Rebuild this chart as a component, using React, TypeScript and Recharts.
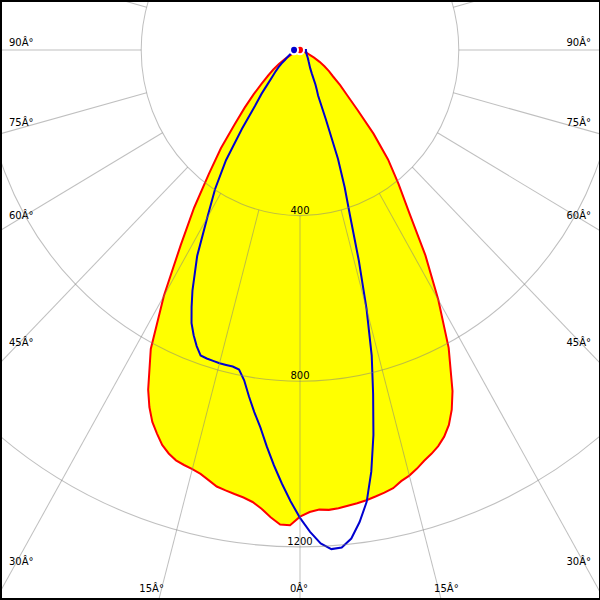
import { RadarChart, Radar, PolarAngleAxis, PolarRadiusAxis } from 'recharts';

// gamma angles (deg), 0 = straight down, C0 on the right, C180 on the left
// (finer steps around the main beam)
const gammaAngles = [
  -90, -87.5, -85, -82.5, -80, -77.5, -75, -72.5, -70, -67.5, -65, -62.5, -60,
  -57.5, -55, -52.5, -50, -47.5, -45, -42.5, -40, -37.5, -35, -32.5, -30, -27.5,
  -25, -23.75, -22.5, -21.25, -20, -18.75, -17.5, -16.25, -15, -13.75,
  -12.5, -11.25, -10, -8.75, -7.5, -6.25, -5, -3.75, -2.5, -1.25,
  0,
  1.25, 2.5, 3.75, 5, 6.25, 7.5, 8.75, 10, 11.25, 12.5,
  13.75, 15, 16.25, 17.5, 18.75, 20, 21.25, 22.5, 23.75, 25,
  27.5, 30, 32.5, 35, 37.5, 40, 42.5, 45, 47.5, 50, 52.5, 55, 57.5,
  60, 62.5, 65, 67.5, 70, 72.5, 75, 77.5, 80, 82.5, 85, 87.5, 90,
];

// C0 - C180 plane (cd)
const planeC0C180 = [
  0, 0, 0, 0, 0, 0, 1, 2, 4, 9, 17, 28, 44,
  63, 82, 101, 126, 158, 197, 244, 310, 377, 465, 560, 686, 814,
  905, 942, 972, 994, 1015, 1029, 1039, 1044, 1048, 1054,
  1064, 1075, 1080, 1085, 1090, 1098, 1112, 1131, 1147, 1148,
  1127,
  1116, 1111, 1113, 1111, 1107, 1104, 1100, 1095, 1090, 1084,
  1072, 1064, 1053, 1040, 1030, 1018, 1002, 980, 949, 909,
  811, 697, 588, 479, 408, 345, 274, 205, 160, 132, 105, 89, 73,
  57, 40, 26, 16, 9, 4, 2, 0, 0, 0, 0, 0, 0,
];

// C90 - C270 plane (cd)
const planeC90C270 = [
  15, 15, 16, 16, 17, 18, 19, 21, 23, 26, 30, 34, 39,
  45, 57, 68, 80, 93, 113, 143, 176, 240, 325, 398, 467, 561,
  641, 678, 714, 739, 761, 779, 781, 782, 783, 783,
  783, 787, 810, 846, 882, 917, 961, 1005, 1048, 1090,
  1130,
  1164, 1193, 1208, 1206, 1187, 1150, 1104, 1034, 948, 851,
  760, 648, 529, 418, 350, 280, 180, 119, 105, 92,
  65, 52, 45, 40, 36, 33, 30, 28, 26, 24, 22, 21, 20,
  19, 18, 18, 17, 17, 16, 16, 16, 15, 15, 15, 15, 15,
];

const gridAngles = [
  -180, -165, -150, -135, -120, -105, -90, -75, -60, -45, -30, -15,
  0, 15, 30, 45, 60, 75, 90, 105, 120, 135, 150, 165,
];
const gridValues = [400, 800, 1200];
const maxValue = 1600;

const W = 600;
const H = 600;
const CX = 300;
const CY = 50;
const PX_PER_CD = 0.397;
const STRETCH = 1.043; // the original plot is a little taller than wide
const FONT = '"DejaVu Sans", Verdana, sans-serif';
const GRID = { stroke: '#808080', strokeOpacity: 0.5, strokeWidth: 1 };

const data = gammaAngles.map((g, i) => ({
  gamma: g,
  c0: planeC0C180[i],
  c90: planeC90C270[i],
}));

// screen y -> y inside the stretched svg
const toSvgY = (y: number) => CY + (y - CY) / STRETCH;

function AngleTick(props: any) {
  const { payload } = props;
  const a = (-payload.coordinate * Math.PI) / 180;
  const ux = Math.cos(a);
  const uy = Math.sin(a);
  const r0 = gridValues[0] * PX_PER_CD;
  const line = (
    <line
      x1={CX + r0 * ux}
      y1={CY + r0 * uy}
      x2={CX + 1200 * ux}
      y2={CY + 1200 * uy}
      {...GRID}
    />
  );

  const g = payload.value;
  if (Math.abs(g) > 90) return <g>{line}</g>;

  const rad = (Math.abs(g) * Math.PI) / 180;
  const s = Math.sin(rad);
  const c = Math.cos(rad);
  const tSide = s > 0 ? (W - CX) / s : Infinity;
  const tBottom = c > 0 ? (H - CY) / c : Infinity;
  let tx: number;
  let ty: number;
  let anchor: 'start' | 'middle' | 'end';
  if (tBottom <= tSide) {
    tx = CX + Math.sign(g) * (H - CY) * Math.tan(rad) - 1;
    ty = 592;
    anchor = 'middle';
  } else {
    ty = CY + (W - CX) * (c / s) - 4.5;
    tx = g < 0 ? 9 : 591;
    anchor = g < 0 ? 'start' : 'end';
  }

  return (
    <g>
      {line}
      <text
        transform={`translate(${tx},${toSvgY(ty)}) scale(1,${1 / STRETCH})`}
        textAnchor={anchor}
        fontFamily={FONT}
        fontSize={10}
        fill="#000"
      >
        {`${Math.abs(g)}Â°`}
      </text>
    </g>
  );
}

function RadiusTick(props: any) {
  const { x, y, payload } = props;
  const r = Math.hypot(x - CX, y - CY);
  return (
    <g>
      <circle cx={CX} cy={CY} r={r} fill="none" {...GRID} />
      <text
        transform={`translate(${x},${y - 2 / STRETCH}) scale(1,${1 / STRETCH})`}
        textAnchor="middle"
        fontFamily={FONT}
        fontSize={10}
        fill="#000"
      >
        {payload.value}
      </text>
    </g>
  );
}

export default function App() {
  return (
    <div
      style={{
        position: 'absolute',
        left: 0,
        top: 0,
        width: W,
        height: H,
        overflow: 'hidden',
        background: '#fff',
      }}
    >
      <div style={{ transform: `scaleY(${STRETCH})`, transformOrigin: `${CX}px ${CY}px` }}>
        <RadarChart
          width={W}
          height={H}
          cx={CX}
          cy={CY}
          outerRadius={maxValue * PX_PER_CD}
          startAngle={90}
          endAngle={450}
          data={data}
          margin={{ top: 0, right: 0, bottom: 0, left: 0 }}
        >
          <PolarAngleAxis
            dataKey="gamma"
            type="number"
            domain={[-180, 180]}
            ticks={gridAngles}
            tickCount={25}
            axisLine={false}
            tickLine={false}
            tick={<AngleTick />}
          />
          <PolarRadiusAxis
            type="number"
            angle={270}
            domain={[0, maxValue]}
            ticks={gridValues}
            axisLine={false}
            tickLine={false}
            tick={<RadiusTick />}
          />
          <Radar
            dataKey="c0"
            stroke="#ff0000"
            strokeWidth={2}
            fill="#ffff00"
            fillOpacity={1}
            dot={false}
            isAnimationActive={false}
          />
          <Radar
            dataKey="c90"
            stroke="#0000d0"
            strokeWidth={2}
            fill="none"
            dot={false}
            isAnimationActive={false}
          />
        </RadarChart>
      </div>
      <div
        style={{
          position: 'absolute',
          left: 0,
          top: 0,
          width: W,
          height: H,
          boxSizing: 'border-box',
          borderStyle: 'solid',
          borderColor: '#000',
          borderWidth: '2px 1px 2px 2px',
          pointerEvents: 'none',
        }}
      />
    </div>
  );
}
